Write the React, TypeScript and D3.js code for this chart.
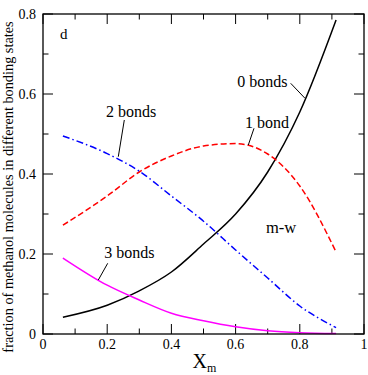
import React from "react";
import * as d3 from "d3";

const xm = [0.062, 0.2, 0.3, 0.4, 0.5, 0.6, 0.7, 0.8, 0.913];
const bonds0 = [0.042, 0.072, 0.108, 0.155, 0.225, 0.3, 0.405, 0.555, 0.785];
const bonds1 = [0.272, 0.345, 0.405, 0.445, 0.47, 0.476, 0.45, 0.37, 0.205];
const bonds2 = [0.495, 0.451, 0.407, 0.345, 0.282, 0.21, 0.14, 0.07, 0.016];
const bonds3 = [0.19, 0.122, 0.085, 0.052, 0.033, 0.018, 0.008, 0.003, 0.001];
const xTicks = [0, 0.2, 0.4, 0.6, 0.8, 1];
const yTicks = [0, 0.2, 0.4, 0.6, 0.8];

const W = 368, H = 375;
const left = 43, right = 364, top = 14, bottom = 334;
const font = "Liberation Serif";

export default function App() {
  const x = d3.scaleLinear().domain([0, 1]).range([left, right]);
  const y = d3.scaleLinear().domain([0, 0.8]).range([bottom, top]);
  const line = (vals: number[]) =>
    d3.line<number>().x((_, i) => x(xm[i])).y((v) => y(v)).curve(d3.curveMonotoneX)(vals) || "";
  const xMinor = d3.range(0, 1.0001, 0.1);
  const yMinor = d3.range(0, 0.8001, 0.1);
  const isMajor = (v: number, step: number) => Math.abs(v / step - Math.round(v / step)) < 1e-6;
  const ts = { fontFamily: font };

  return (
    <svg width={W} height={H} style={{ position: "absolute", left: 0, top: 0, background: "#fff", fontFamily: font }}>
      {xMinor.map((v, i) => {
        const L = isMajor(v, 0.2) ? 10 : 5.5;
        return (
          <g key={"xt" + i} stroke="#000" strokeWidth={1}>
            <line x1={x(v)} x2={x(v)} y1={bottom} y2={bottom - L} />
            <line x1={x(v)} x2={x(v)} y1={top} y2={top + L} />
          </g>
        );
      })}
      {yMinor.map((v, i) => {
        const L = isMajor(v, 0.2) ? 10 : 5.5;
        return (
          <g key={"yt" + i} stroke="#000" strokeWidth={1}>
            <line x1={left} x2={left + L} y1={y(v)} y2={y(v)} />
            <line x1={right} x2={right - L} y1={y(v)} y2={y(v)} />
          </g>
        );
      })}
      <path d={line(bonds0)} fill="none" stroke="#000" strokeWidth={1.5} />
      <path d={line(bonds1)} fill="none" stroke="#ff0000" strokeWidth={1.5} strokeDasharray="6,3" />
      <path d={line(bonds2)} fill="none" stroke="#0000ff" strokeWidth={1.5} strokeDasharray="7,3,1.5,3" />
      <path d={line(bonds3)} fill="none" stroke="#ff00ff" strokeWidth={1.5} />
      <rect x={left} y={top} width={right - left} height={bottom - top} fill="none" stroke="#000" strokeWidth={1.3} />
      {xTicks.map((v) => (
        <text key={"xl" + v} style={ts} x={x(v)} y={349} fontSize={14} textAnchor="middle">{String(v)}</text>
      ))}
      {yTicks.map((v) => (
        <text key={"yl" + v} style={ts} x={36} y={y(v) + 4.8} fontSize={14} textAnchor="end">{String(v)}</text>
      ))}
      <text style={ts} x={192.5} y={368} fontSize={20}>X<tspan fontSize={12} dy={3.5}>m</tspan></text>
      <text style={ts} transform={`translate(13,187) rotate(-90)`} fontSize={14.3} textAnchor="middle">
        fraction of methanol molecules in different bonding states
      </text>
      <text style={ts} x={60} y={39} fontSize={15}>d</text>
      <text style={ts} x={266} y={233.3} fontSize={16.5}>m-w</text>
      <text style={ts} x={106} y={116.5} fontSize={16}>2 bonds</text>
      <text style={ts} x={104.3} y={258.3} fontSize={16}>3 bonds</text>
      <text style={ts} x={237.3} y={87.3} fontSize={16}>0 bonds</text>
      <text style={ts} x={245} y={127.7} fontSize={16}>1 bond</text>
      <g stroke="#000" strokeWidth={1}>
        <line x1={124.3} y1={120} x2={118.3} y2={156.7} />
        <line x1={107.7} y1={263.3} x2={98.3} y2={280} />
        <line x1={254} y1={128.3} x2={248.3} y2={145} />
        <line x1={290.7} y1={83.3} x2={305} y2={98.3} />
      </g>
    </svg>
  );
}
